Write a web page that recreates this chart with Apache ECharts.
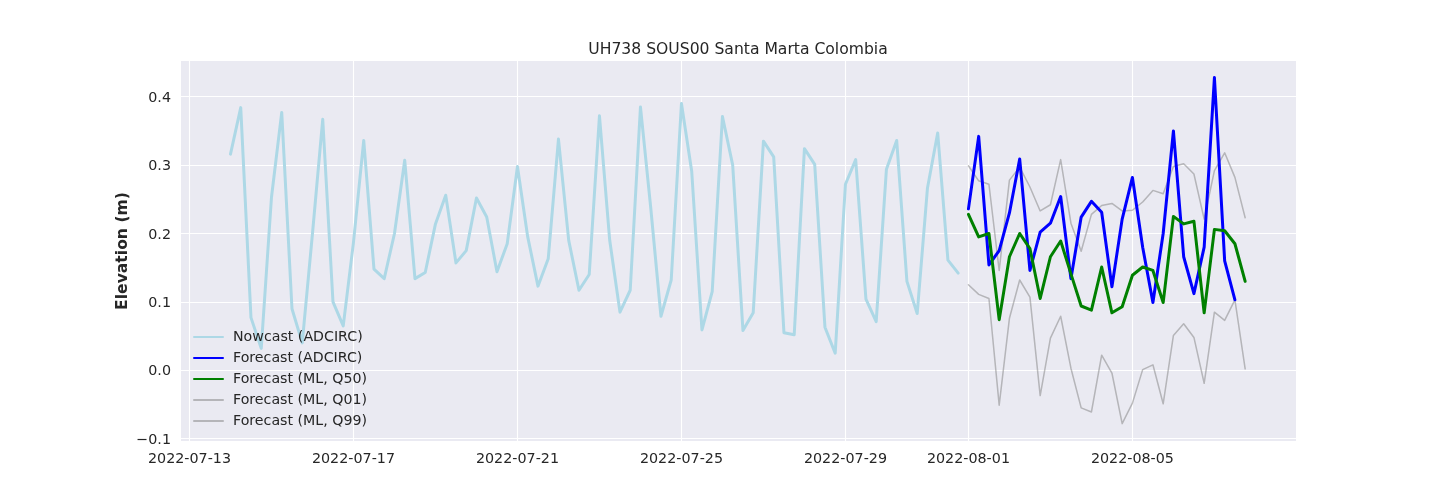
<!DOCTYPE html>
<html><head><meta charset="utf-8">
<style>html,body{margin:0;padding:0;background:#fff}#c{width:1440px;height:504px}</style>
<script src="https://cdn.jsdelivr.net/npm/echarts@6/dist/echarts.min.js"></script>
</head><body><div id="c"></div>
<script>
const nowcastStart = '2022-07-14T00:00:00Z';
const forecastStart = '2022-08-01T00:00:00Z';
const stepHours = 6;
const nowcast = [0.316,0.384,0.077,0.032,0.253,0.377,0.090,0.040,0.200,0.367,0.100,0.065,0.187,0.336,0.148,0.134,0.200,0.307,0.134,0.143,0.214,0.256,0.157,0.175,0.252,0.224,0.144,0.185,0.298,0.195,0.123,0.163,0.338,0.190,0.117,0.140,0.372,0.190,0.085,0.117,0.385,0.238,0.079,0.132,0.390,0.291,0.059,0.115,0.371,0.300,0.058,0.084,0.335,0.312,0.055,0.052,0.324,0.301,0.063,0.025,0.272,0.308,0.104,0.071,0.294,0.336,0.130,0.083,0.266,0.347,0.161,0.142];
const forecastAdcirc = [0.236,0.342,0.154,0.175,0.230,0.309,0.146,0.202,0.215,0.254,0.134,0.224,0.247,0.231,0.122,0.221,0.282,0.180,0.099,0.200,0.350,0.166,0.112,0.180,0.428,0.160,0.103];
const forecastQ50 = [0.228,0.195,0.200,0.074,0.166,0.200,0.178,0.105,0.166,0.189,0.141,0.094,0.088,0.151,0.084,0.093,0.139,0.151,0.146,0.099,0.225,0.214,0.218,0.084,0.206,0.204,0.185,0.130];
const forecastQ01 = [0.125,0.111,0.105,-0.051,0.076,0.132,0.107,-0.037,0.047,0.079,0.003,-0.055,-0.061,0.022,-0.004,-0.078,-0.048,0.001,0.008,-0.049,0.051,0.068,0.048,-0.019,0.085,0.073,0.103,0.002];
const forecastQ99 = [0.299,0.277,0.272,0.146,0.278,0.297,0.268,0.233,0.242,0.308,0.215,0.174,0.228,0.241,0.244,0.233,0.234,0.246,0.263,0.258,0.298,0.302,0.287,0.221,0.292,0.318,0.282,0.223];
const xTickLabels = ['2022-07-13','2022-07-17','2022-07-21','2022-07-25','2022-07-29','2022-08-01','2022-08-05'];
const yTicks = [-0.1,0,0.1,0.2,0.3,0.4];
const seriesNames = ['Nowcast (ADCIRC)','Forecast (ADCIRC)','Forecast (ML, Q50)','Forecast (ML, Q01)','Forecast (ML, Q99)'];

const FONT = '"DejaVu Sans"';
const INK = '#262626';
const H = 3600e3;
const ms = s => new Date(s).getTime();
const pair = (start, vals) => vals.map((v, i) => [ms(start) + i * stepHours * H, v]);
const xTicks = xTickLabels.map(s => ms(s + 'T00:00:00Z'));
const line = (name, start, vals, color, width, z) => ({
  name, type: 'line', data: pair(start, vals), showSymbol: false, symbol: 'none', smooth: false, z,
  animation: false, lineStyle: { color, width, cap: 'round', join: 'round' }, itemStyle: { color }
});
const chart = echarts.init(document.getElementById('c'), null, { renderer: 'canvas' });
chart.setOption({
  animation: false,
  backgroundColor: '#ffffff',
  title: { text: 'UH738 SOUS00 Santa Marta Colombia', left: 738, top: 42, padding: 0, textAlign: 'center',
    textStyle: { fontFamily: FONT, fontSize: 15.6, fontWeight: 'normal', color: INK } },
  grid: { left: 181, right: 144, top: 61, bottom: 63, show: true, backgroundColor: '#EAEAF2', borderWidth: 0 },
  legend: { orient: 'vertical', left: 193, top: 330, padding: 0, itemWidth: 29, itemHeight: 10, itemGap: 7,
    data: seriesNames, selectedMode: false, backgroundColor: 'transparent', itemStyle: { opacity: 0 },
    textStyle: { fontFamily: FONT, fontSize: 14.2, color: INK, padding: [0, 0, 0, 5] } },
  xAxis: { type: 'value', scale: true, min: xTicks[0] - 0.207 * 24 * H, max: xTicks[0] + 26.99 * 24 * H,
    axisLine: { show: false },
    axisTick: { show: false, customValues: xTicks },
    axisLabel: { customValues: xTicks, fontFamily: FONT, fontSize: 14.3, color: INK, margin: 11,
      hideOverlap: false, showMinLabel: true, showMaxLabel: true,
      formatter: v => xTickLabels[xTicks.indexOf(v)] || '' },
    splitLine: { show: true, lineStyle: { color: '#fff', width: 1.1 } } },
  yAxis: { type: 'value', min: -0.1034, max: 0.4522,
    name: 'Elevation (m)', nameLocation: 'middle', nameGap: 50, nameRotate: 90, nameMoveOverlap: false,
    nameTextStyle: { fontFamily: FONT, fontSize: 15.6, fontWeight: 'bold', color: INK },
    axisLine: { show: false },
    axisTick: { show: false, customValues: yTicks },
    axisLabel: { customValues: yTicks, fontFamily: FONT, fontSize: 14.3, color: INK, margin: 10,
      rich: { t: { fontFamily: FONT, fontSize: 14.3, color: INK, padding: [3, 0, 0, 0] } },
      formatter: v => '{t|' + v.toFixed(1).replace('-', '\u2212') + '}' },
    splitLine: { show: true, lineStyle: { color: '#fff', width: 1.1 } } },
  series: [
    line(seriesNames[0], nowcastStart, nowcast, '#ADD8E6', 3, 2),
    line(seriesNames[1], forecastStart, forecastAdcirc, '#0000FF', 3, 3),
    line(seriesNames[2], forecastStart, forecastQ50, '#008000', 3, 4),
    line(seriesNames[3], forecastStart, forecastQ01, 'rgba(128,128,128,0.5)', 1.5, 1),
    line(seriesNames[4], forecastStart, forecastQ99, 'rgba(128,128,128,0.5)', 1.5, 1)
  ]
});
</script></body></html>
